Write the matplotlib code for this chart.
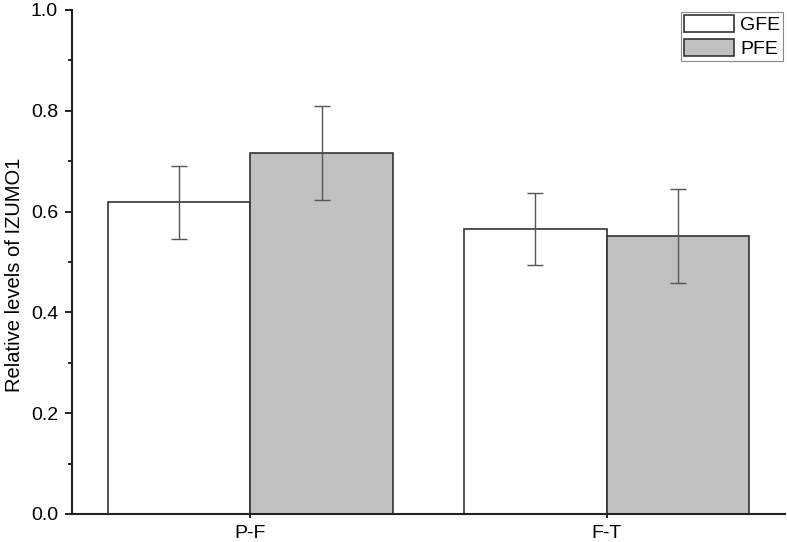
import matplotlib
matplotlib.use('Agg')
import matplotlib.pyplot as plt
import numpy as np
from matplotlib.ticker import MultipleLocator

plt.rcParams['font.family'] = ['Liberation Sans', 'DejaVu Sans']

groups = ['P-F', 'F-T']
series = ['GFE', 'PFE']
gfe = [0.618, 0.565]
pfe = [0.716, 0.552]
gfe_err = [0.072, 0.072]
pfe_err = [0.093, 0.093]

fig = plt.figure(figsize=(7.87, 5.42), dpi=100)
ax = fig.add_axes([0.0915, 0.0517, 0.906, 0.93])

x = np.arange(len(groups))
w = 0.4
err_kw = dict(ecolor='#555555', elinewidth=1.0, capsize=6, capthick=1.0)
ax.bar(x - w / 2, gfe, w, yerr=gfe_err, color='white', edgecolor='#333333',
       linewidth=1.2, label=series[0], error_kw=err_kw)
ax.bar(x + w / 2, pfe, w, yerr=pfe_err, color='#c0c0c0', edgecolor='#333333',
       linewidth=1.2, label=series[1], error_kw=err_kw)

ax.set_xlim(-0.5, 1.5)
ax.set_ylim(0, 1.0)
ax.set_xticks(x)
ax.set_xticklabels(groups, fontsize=14)
ax.yaxis.set_major_locator(MultipleLocator(0.2))
ax.yaxis.set_minor_locator(MultipleLocator(0.1))
ax.yaxis.set_major_formatter(matplotlib.ticker.FormatStrFormatter('%.1f'))
ax.tick_params(axis='y', labelsize=14, length=5, width=1.2, direction='out', pad=5)
ax.tick_params(axis='y', which='minor', length=3, width=1.2)
ax.tick_params(axis='x', length=3, width=1.2, direction='out', pad=5)
ax.set_ylabel('Relative levels of IZUMO1', fontsize=14.5)
ax.yaxis.set_label_coords(-0.067, 0.474)

for s in ['top', 'right']:
    ax.spines[s].set_visible(False)
for s in ['left', 'bottom']:
    ax.spines[s].set_linewidth(1.5)
    ax.spines[s].set_color('#222222')

leg = ax.legend(loc='upper right', fontsize=14, fancybox=False, framealpha=1,
                edgecolor='#888888', handlelength=2.6, handleheight=1.0,
                borderpad=0.15, labelspacing=0.25, handletextpad=0.3,
                borderaxespad=0.1)
leg.get_frame().set_linewidth(0.8)

fig.savefig('out.png', dpi=100)
